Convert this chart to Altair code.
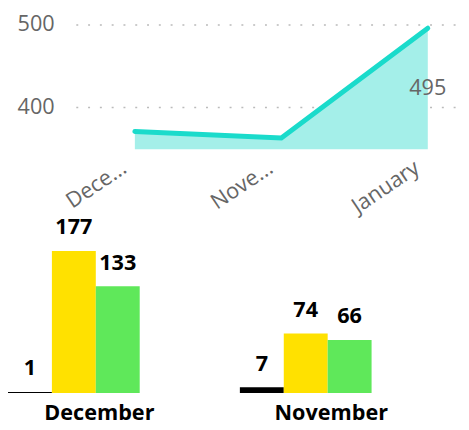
import altair as alt
import pandas as pd

# ---- data ----
line_months = ["December", "November", "January"]
line_values = [370, 362, 495]

bar_months = ["December", "November"]
series_names = ["Series A", "Series B", "Series C"]
series_colors = ["#000000", "#FFE100", "#5FE85A"]
bar_a = [1, 7]
bar_b = [177, 74]
bar_c = [133, 66]

y_ticks = [400, 500]
y_domain = [348.5, 515]
bar_domain = [0, 228]

FONT = "Open Sans"

line_df = pd.DataFrame({"month": line_months, "value": line_values})
rows = []
for i, m in enumerate(bar_months):
    for s, vals in zip(series_names, [bar_a, bar_b, bar_c]):
        rows.append({"month": m, "series": s, "value": vals[i]})
bar_df = pd.DataFrame(rows)

# ---- top area chart ----
x_top = alt.X(
    "month:N", sort=line_months, title=None,
    scale=alt.Scale(type="point", padding=0.315, align=0.64),
    axis=alt.Axis(labelAngle=-34, labelFontSize=22, labelColor="#666666", labelFont=FONT,
                  domain=False, ticks=False, labelPadding=8, grid=False, labelLimit=300,
                  labelOffset=-17,
                  labelExpr="length(datum.label) > 7 ? substring(datum.label, 0, 4) + '...' : datum.label"),
)
y_top = alt.Y(
    "value:Q", title=None,
    scale=alt.Scale(domain=y_domain, zero=False, nice=False),
    axis=alt.Axis(values=y_ticks, labelFontSize=22, labelColor="#666666", labelFont=FONT,
                  domain=False, ticks=False, labelPadding=22, gridDash=[2, 10],
                  gridColor="#bbbbbb", gridWidth=1.5, minExtent=69, maxExtent=69),
)

base = alt.Chart(line_df)
area = base.mark_area(color="#A4EFE9", opacity=1).encode(x=x_top, y=y_top, y2=alt.datum(y_domain[0]))
line = base.mark_line(color="#1ADBCB", strokeWidth=5, strokeCap="round").encode(x=x_top, y=y_top)
txt = base.transform_filter("datum.month == 'January'").mark_text(
    dy=61, fontSize=22, color="#666666", font=FONT, baseline="middle"
).encode(x=x_top, y=y_top, text="value:Q")
top = alt.layer(area, line, txt).properties(width=392, height=140)

# ---- bottom grouped bars ----
x_bot = alt.X(
    "month:N", sort=bar_months, title=None,
    scale=alt.Scale(paddingInner=0.432, paddingOuter=0, align=0, range=[-69, 301]),
    axis=alt.Axis(labelAngle=0, labelFontSize=22, labelFontWeight="bold", labelColor="#000000",
                  labelFont=FONT, domain=False, ticks=False, labelPadding=10, labelOffset=26),
)
xo = alt.XOffset("series:N", sort=series_names, scale=alt.Scale(paddingInner=0, paddingOuter=0))
y_bot = alt.Y("value:Q", scale=alt.Scale(domain=bar_domain, nice=False), axis=None)

bbase = alt.Chart(bar_df)
bars = bbase.mark_bar().encode(
    x=x_bot, xOffset=xo, y=y_bot,
    color=alt.Color("series:N", scale=alt.Scale(domain=series_names, range=series_colors), legend=None),
)
blabels = bbase.mark_text(dy=-17, baseline="alphabetic", fontSize=22, fontWeight="bold",
                          color="#000000", font=FONT).encode(x=x_bot, xOffset=xo, y=y_bot, text="value:Q")
bottom = alt.layer(bars, blabels).properties(width=370, height=186)

chart = alt.concat(top, bottom, columns=1, align="none", spacing=-7).properties(padding=0).configure_view(stroke=None)

chart.save("out.html", embed_options={"renderer": "svg", "actions": False})
